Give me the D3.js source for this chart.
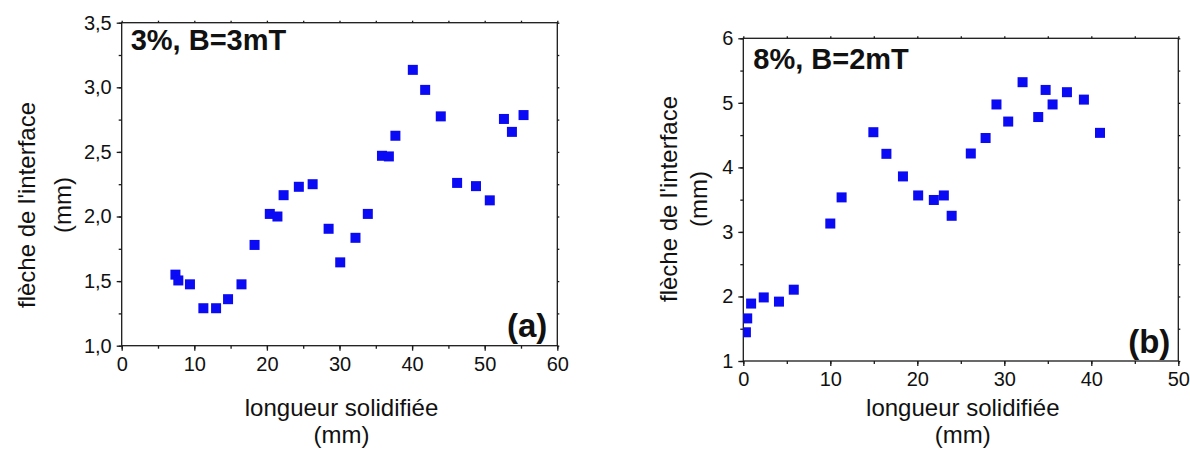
<!DOCTYPE html>
<html>
<head>
<meta charset="utf-8">
<script src="https://cdn.jsdelivr.net/npm/d3@7"></script>
<style>
  html, body { margin: 0; padding: 0; background: #fff; }
  svg { display: block; font-family: "Liberation Sans", Arial, sans-serif; }
</style>
</head>
<body>
<svg id="chart" width="1190" height="455"></svg>
<script>
// ---- Data (a) 3%, B=3mT ----
const xA = [7.4, 7.8, 9.4, 11.25, 13.0, 14.65, 16.5, 18.3, 20.4, 21.45, 22.3, 24.4, 26.3, 28.5, 30.1, 32.2, 33.9, 35.85, 36.8, 37.7, 40.1, 41.8, 43.95, 46.2, 48.8, 50.7, 52.65, 53.75, 55.35];
const yA = [1.55, 1.505, 1.475, 1.29, 1.29, 1.36, 1.475, 1.78, 2.02, 2.0, 2.165, 2.23, 2.25, 1.905, 1.645, 1.835, 2.02, 2.47, 2.465, 2.625, 3.135, 2.98, 2.775, 2.26, 2.235, 2.125, 2.755, 2.655, 2.785];
// ---- Data (b) 8%, B=2mT ----
const xB = [0.3, 0.45, 0.9, 2.35, 4.1, 5.8, 10.0, 11.3, 14.95, 16.45, 18.35, 20.1, 21.9, 23.05, 23.95, 26.15, 27.85, 29.1, 30.45, 32.1, 33.9, 34.75, 35.55, 37.2, 39.15, 41.0];
const yB = [1.445, 1.66, 1.89, 1.985, 1.92, 2.105, 3.13, 3.535, 4.545, 4.21, 3.86, 3.565, 3.495, 3.565, 3.25, 4.215, 4.455, 4.975, 4.71, 5.32, 4.78, 5.2, 4.975, 5.165, 5.05, 4.535];

const xTicksA = [0, 10, 20, 30, 40, 50, 60];
const yTicksA = [1.0, 1.5, 2.0, 2.5, 3.0, 3.5];
const xTicksB = [0, 10, 20, 30, 40, 50];
const yTicksB = [1, 2, 3, 4, 5, 6];

const xTitle = ["longueur solidifiée", "(mm)"];
const yTitle = ["flèche de l'interface", "(mm)"];

const svg = d3.select("#chart");
const axisColor = "#1a1a1a";
const markColor = "#0a0af5";

function panel(cfg) {
  const x = d3.scaleLinear().domain(cfg.xDomain).range(cfg.xRange);
  const y = d3.scaleLinear().domain(cfg.yDomain).range(cfg.yRange);
  const g = svg.append("g");
  const [x0, x1] = cfg.xRange;
  const [y0, y1] = cfg.yRange; // y0 bottom, y1 top

  g.append("clipPath").attr("id", cfg.id + "clip")
    .append("rect").attr("x", x0).attr("y", y1).attr("width", x1 - x0).attr("height", y0 - y1);

  const xMinor = d3.range(cfg.xDomain[0], cfg.xDomain[1] + 1e-9, cfg.xMinorStep);
  const yMinor = d3.range(cfg.yDomain[0], cfg.yDomain[1] + 1e-9, cfg.yMinorStep);

  const styleAxis = sel => {
    sel.select(".domain").remove();
    sel.selectAll("line").attr("stroke", axisColor).attr("stroke-width", 1.3);
    sel.selectAll("text").attr("fill", "#111").style("font-size", "20px")
       .style("font-family", "'Liberation Sans', Arial, sans-serif");
  };
  g.append("g").attr("transform", `translate(0,${y0})`)
    .call(d3.axisBottom(x).tickValues(xMinor).tickSize(3).tickFormat(""))
    .call(styleAxis);
  g.append("g").attr("transform", `translate(${x0},0)`)
    .call(d3.axisLeft(y).tickValues(yMinor).tickSize(3).tickFormat(""))
    .call(styleAxis);
  g.append("g").attr("transform", `translate(0,${y1})`)
    .call(d3.axisTop(x).tickValues(xMinor).tickSize(2).tickFormat(""))
    .call(styleAxis);
  g.append("g").attr("transform", `translate(${x1},0)`)
    .call(d3.axisRight(y).tickValues(yMinor).tickSize(2).tickFormat(""))
    .call(styleAxis);

  const gx = g.append("g").attr("transform", `translate(0,${y0})`)
    .call(d3.axisBottom(x).tickValues(cfg.xTicks).tickSize(5).tickPadding(6).tickFormat(d3.format("d")))
    .call(styleAxis);
  gx.selectAll("text").attr("dy", "0.71em");
  g.append("g").attr("transform", `translate(${x0},0)`)
    .call(d3.axisLeft(y).tickValues(cfg.yTicks).tickSize(5).tickPadding(5).tickFormat(cfg.yFormat))
    .call(styleAxis);

  g.append("rect").attr("x", x0).attr("y", y1).attr("width", x1 - x0).attr("height", y0 - y1)
    .attr("fill", "none").attr("stroke", axisColor).attr("stroke-width", 1.3);

  const pts = cfg.xs.map((v, i) => [v, cfg.ys[i]]);
  const s = 10;
  g.append("g").attr("clip-path", `url(#${cfg.id}clip)`)
    .selectAll("rect.pt").data(pts).join("rect").attr("class", "pt")
    .attr("x", d => x(d[0]) - s / 2).attr("y", d => y(d[1]) - s / 2)
    .attr("width", s).attr("height", s).attr("fill", markColor);

  g.append("text").attr("x", x0 + cfg.labelDx).attr("y", y1 + cfg.labelDy)
    .attr("font-weight", "bold").attr("font-size", 29).attr("fill", "#111").text(cfg.label);
  g.append("text").attr("x", x1 - cfg.tagDx).attr("y", y0 - cfg.tagDy)
    .attr("text-anchor", "end").attr("font-weight", "bold").attr("font-size", 33).attr("fill", "#111").text(cfg.tag);

  const cx = (x0 + x1) / 2 + 2;
  xTitle.forEach((t, i) => {
    g.append("text").attr("x", cx).attr("y", cfg.xTitleY + i * 27)
      .attr("text-anchor", "middle").attr("font-size", 24).attr("fill", "#111").text(t);
  });
  cfg.yTitleX.forEach((bx, i) => {
    g.append("text").attr("transform", `translate(${bx},${cfg.yTitleCY}) rotate(-90)`)
      .attr("text-anchor", "middle").attr("font-size", 24).attr("fill", "#111").text(yTitle[i]);
  });
}

panel({
  id: "a", xs: xA, ys: yA,
  xDomain: [0, 60], yDomain: [1, 3.5],
  xRange: [121.7, 557.3], yRange: [345.7, 22.7],
  xTicks: xTicksA, yTicks: yTicksA, xMinorStep: 5, yMinorStep: 0.25,
  yFormat: d => d3.format(".1f")(d).replace(".", ","),
  label: "3%, B=3mT", labelDx: 9, labelDy: 27,
  tag: "(a)", tagDx: 10, tagDy: 9,
  xTitleY: 416, yTitleX: [35, 71], yTitleCY: 205
});

panel({
  id: "b", xs: xB, ys: yB,
  xDomain: [0, 50], yDomain: [1, 6],
  xRange: [743.3, 1178.3], yRange: [361, 38.3],
  xTicks: xTicksB, yTicks: yTicksB, xMinorStep: 5, yMinorStep: 0.5,
  yFormat: d3.format("d"),
  label: "8%, B=2mT", labelDx: 10, labelDy: 31,
  tag: "(b)", tagDx: 8, tagDy: 8,
  xTitleY: 416, yTitleX: [677, 707], yTitleCY: 199
});
</script>
</body>
</html>
